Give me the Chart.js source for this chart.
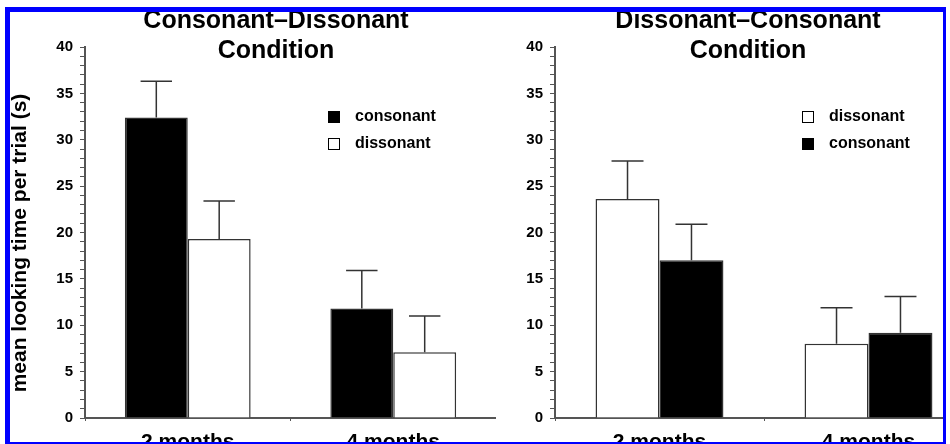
<!DOCTYPE html>
<html lang="en">
<head>
<meta charset="UTF-8">
<title>Consonant / Dissonant looking times</title>
<style>
  html, body { margin:0; padding:0; background:#fff; overflow:hidden; }
  body { width:950px; height:444px; position:relative; }
  .frame { position:absolute; left:5px; top:7px; width:941px; height:437px; box-sizing:border-box;
           border-style:solid; border-color:#0000ff; border-width:5px 3px 2px 5px; overflow:hidden; }
  .panel { position:absolute; top:-12px; }
  #leftPanel { left:-10px; }
  #rightPanel { left:460px; }
</style>
</head>
<body>
<div class="frame">
  <div class="panel" id="leftPanel"><canvas id="chartLeft" width="496" height="444"></canvas></div>
  <div class="panel" id="rightPanel"><canvas id="chartRight" width="503" height="444"></canvas></div>
</div>
<script src="https://cdn.jsdelivr.net/npm/chart.js"></script>
<script>
// data (seconds)
const categories = ["2 months", "4 months"];
const cdConsonant = [32.4, 11.8];
const cdConsonantErr = [3.9, 4.1];
const cdDissonant = [19.3, 7.1];
const cdDissonantErr = [4.1, 3.9];
const dcDissonant = [23.6, 8.0];
const dcDissonantErr = [4.1, 3.9];
const dcConsonant = [17.0, 9.2];
const dcConsonantErr = [3.9, 3.9];
const yTicks = [0, 5, 10, 15, 20, 25, 30, 35, 40];

const FONT = "'Liberation Sans', Arial, Helvetica, sans-serif";
const yTitleText = "mean looking time per trial (s)";

// error bars (upper half only, like the original)
const errorBars = {
  id: "errorBars",
  afterDatasetsDraw(chart) {
    const ctx = chart.ctx, y = chart.scales.y;
    ctx.save();
    ctx.strokeStyle = "#333";
    ctx.lineWidth = 1.5;
    chart.data.datasets.forEach((ds, i) => {
      chart.getDatasetMeta(i).data.forEach((bar, j) => {
        const top = y.getPixelForValue(ds.data[j] + ds.errors[j]);
        const half = bar.width / 4;
        ctx.beginPath();
        ctx.moveTo(bar.x, bar.y);
        ctx.lineTo(bar.x, top);
        ctx.moveTo(bar.x - half, top);
        ctx.lineTo(bar.x + half, top);
        ctx.stroke();
      });
    });
    ctx.restore();
  }
};

// titles, legend and the rotated axis title
const panelText = {
  id: "panelText",
  afterDraw(chart, args, opts) {
    const ctx = chart.ctx;
    ctx.save();
    ctx.fillStyle = "#000";
    ctx.textAlign = "center";
    ctx.textBaseline = "alphabetic";
    ctx.font = "bold 25px " + FONT;
    opts.title.forEach((line, i) => ctx.fillText(line, opts.titleX, 28 + i * 30));

    ctx.textAlign = "left";
    ctx.textBaseline = "middle";
    ctx.font = "bold 16px " + FONT;
    chart.data.datasets.forEach((ds, i) => {
      const yy = 117 + i * 27;
      ctx.fillStyle = ds.backgroundColor;
      ctx.fillRect(opts.legendX, yy - 6, 12, 12);
      ctx.strokeStyle = "#000";
      ctx.lineWidth = 1;
      ctx.strokeRect(opts.legendX + 0.5, yy - 5.5, 11, 11);
      ctx.fillStyle = "#000";
      ctx.fillText(ds.label, opts.legendX + 27, yy);
    });

    if (opts.yTitle) {
      ctx.translate(20, 243);
      ctx.rotate(-Math.PI / 2);
      ctx.textAlign = "center";
      ctx.font = "bold 21px " + FONT;
      ctx.fillText(opts.yTitle, 0, 0);
    }
    ctx.restore();
  }
};

function barSet(label, values, errors, fill) {
  return {
    label: label,
    data: values,
    errors: errors,
    backgroundColor: fill,
    borderColor: "#333",
    borderWidth: 1.5,
    categoryPercentage: 0.612,
    barPercentage: 1.0
  };
}

function makeChart(id, datasets, textOpts) {
  return new Chart(document.getElementById(id), {
    type: "bar",
    data: { labels: categories, datasets: datasets },
    options: {
      responsive: false,
      animation: false,
      layout: { padding: { top: 47, right: 0, bottom: 0, left: 0 } },
      plugins: {
        legend: { display: false },
        tooltip: { enabled: false },
        panelText: textOpts
      },
      scales: {
        x: {
          grid: { drawOnChartArea: false, offset: true, tickLength: 3, tickColor: "#555" },
          border: { color: "#555", width: 2 },
          ticks: { color: "#000", padding: 9, font: { family: FONT, size: 21, weight: "bold" } },
          afterFit: s => { s.height = 26; }
        },
        y: {
          min: 0, max: 40,
          ticks: {
            stepSize: 1,
            autoSkip: false,
            padding: 7,
            color: "#000",
            font: { family: FONT, size: 15, weight: "bold" },
            callback: v => yTicks.includes(v) ? v : ""
          },
          grid: { drawOnChartArea: false, tickLength: 5, tickColor: "#555" },
          border: { color: "#555", width: 2 },
          afterFit: s => { s.width = 85; }
        }
      }
    },
    plugins: [errorBars, panelText]
  });
}

makeChart("chartLeft", [
  barSet("consonant", cdConsonant, cdConsonantErr, "#000"),
  barSet("dissonant", cdDissonant, cdDissonantErr, "#fff")
], { title: ["Consonant\u2013Dissonant", "Condition"], titleX: 276, legendX: 328, yTitle: yTitleText });

makeChart("chartRight", [
  barSet("dissonant", dcDissonant, dcDissonantErr, "#fff"),
  barSet("consonant", dcConsonant, dcConsonantErr, "#000")
], { title: ["Dissonant\u2013Consonant", "Condition"], titleX: 278, legendX: 332 });
</script>
</body>
</html>
